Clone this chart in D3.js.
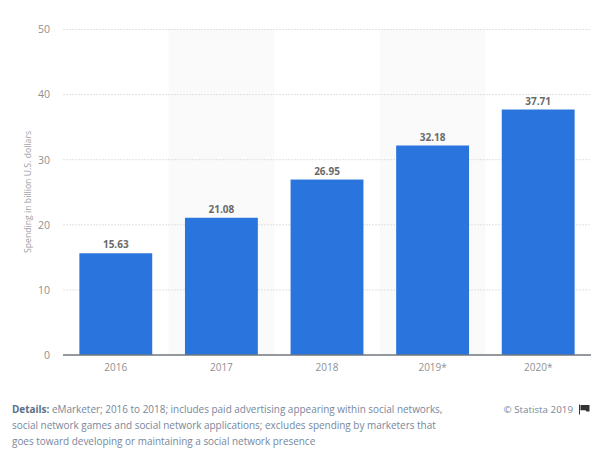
<!DOCTYPE html>
<html>
<head>
<meta charset="utf-8">
<script src="https://cdn.jsdelivr.net/npm/d3@7"></script>
<style>
  html, body { margin: 0; padding: 0; background: #fff; }
  svg { display: block; font-family: "Open Sans", sans-serif; }
  .domain { display: none; }
</style>
</head>
<body>
<svg id="chart" width="600" height="462"></svg>
<script>
(function () {
  'use strict';

  var years = ['2016', '2017', '2018', '2019*', '2020*'];
  var spending = [15.63, 21.08, 26.95, 32.18, 37.71];
  var yTicks = [0, 10, 20, 30, 40, 50];
  var shadedYears = ['2017', '2019*'];
  var yAxisTitle = 'Spending in billion U.S. dollars';
  var detailLines = [
    'eMarketer; 2016 to 2018; includes paid advertising appearing within social networks,',
    'social network games and social network applications; excludes spending by marketers that',
    'goes toward developing or maintaining a social network presence'
  ];

  var svg = d3.select('#chart');

  var xScale = d3.scaleBand().domain(years).range([63, 591]).paddingInner(0.31).paddingOuter(0.155);
  var bandScale = d3.scaleBand().domain(years).range([63, 591]);
  var yScale = d3.scaleLinear().domain([0, 50]).range([355, 29.5]);

  // alternating background stripes
  svg.append('g').selectAll('rect')
    .data(shadedYears)
    .join('rect')
    .attr('x', function (d) { return bandScale(d); })
    .attr('y', yScale(50))
    .attr('width', bandScale.bandwidth())
    .attr('height', yScale(0) - yScale(50))
    .attr('fill', '#fafafa');

  var yAxis = svg.append('g')
    .attr('transform', 'translate(63,0)')
    .call(d3.axisLeft(yScale).tickValues(yTicks).tickSize(0).tickPadding(13));
  yAxis.selectAll('text')
    .attr('fill', '#909090')
    .attr('font-size', '10.5px')
    .attr('font-family', '"Open Sans", sans-serif');

  svg.append('g').selectAll('line')
    .data(yTicks.filter(function (d) { return d > 0; }))
    .join('line')
    .attr('x1', 63)
    .attr('x2', 591)
    .attr('y1', function (d) { return yScale(d); })
    .attr('y2', function (d) { return yScale(d); })
    .attr('stroke', '#e2e2e2')
    .attr('stroke-width', 1)
    .attr('stroke-dasharray', '2,1');

  svg.append('g').selectAll('rect')
    .data(years)
    .join('rect')
    .attr('x', function (d) { return xScale(d); })
    .attr('y', function (d, i) { return yScale(spending[i]); })
    .attr('width', xScale.bandwidth())
    .attr('height', function (d, i) { return yScale(0) - yScale(spending[i]); })
    .attr('fill', '#2a75dd');

  svg.append('g').selectAll('text')
    .data(years)
    .join('text')
    .attr('x', function (d) { return xScale(d) + xScale.bandwidth() / 2; })
    .attr('y', function (d, i) { return yScale(spending[i]) - 5; })
    .attr('text-anchor', 'middle')
    .attr('fill', '#6a6a6a')
    .attr('font-size', '10px')
    .attr('font-weight', 700)
    .text(function (d, i) { return spending[i].toFixed(2); });

  var xAxis = svg.append('g')
    .attr('transform', 'translate(0,' + yScale(0) + ')')
    .call(d3.axisBottom(xScale).tickSize(0).tickPadding(8.5));
  xAxis.selectAll('text')
    .attr('fill', '#909090')
    .attr('font-size', '10px')
    .attr('font-family', '"Open Sans", sans-serif');

  svg.append('line')
    .attr('x1', 63)
    .attr('x2', 591)
    .attr('y1', yScale(0))
    .attr('y2', yScale(0))
    .attr('stroke', '#6f777f')
    .attr('stroke-width', 1.3);

  svg.append('text')
    .attr('transform', 'translate(31,192) rotate(-90)')
    .attr('text-anchor', 'middle')
    .attr('fill', '#a0a0a0')
    .attr('font-size', '8.7px')
    .text(yAxisTitle);

  var details = svg.append('g').attr('font-size', '9.95px').attr('fill', '#77879b');
  details.append('text')
    .attr('x', 12)
    .attr('y', 413)
    .call(function (t) {
      t.append('tspan').attr('font-weight', 700).attr('fill', '#587089').text('Details: ');
      t.append('tspan').text(detailLines[0]);
    });
  details.selectAll('text.more')
    .data(detailLines.slice(1))
    .join('text')
    .attr('class', 'more')
    .attr('x', 12)
    .attr('y', function (d, i) { return 429 + i * 15.5; })
    .text(function (d) { return d; });

  svg.append('text')
    .attr('x', 573)
    .attr('y', 413)
    .attr('text-anchor', 'end')
    .attr('font-size', '9.8px')
    .attr('fill', '#77879b')
    .text('© Statista 2019');

  // flag icon next to the copyright
  svg.append('path')
    .attr('d', 'M579 404.5h1v10h-1z M580.5 405h9v6.5h-3l-1-1.2h-5z')
    .attr('fill', '#333333');
})();
</script>
</body>
</html>
